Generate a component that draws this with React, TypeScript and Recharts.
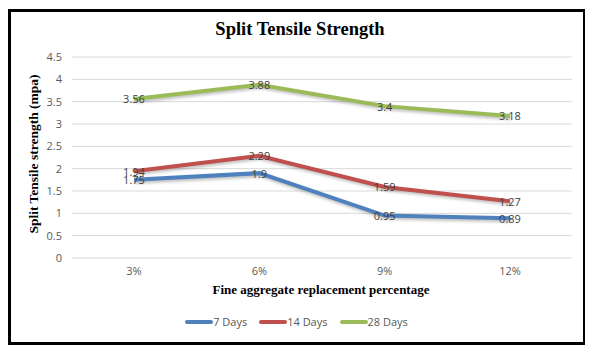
import { CartesianGrid, LabelList, Legend, Line, LineChart, XAxis, YAxis } from "recharts";

const categories = ["3%", "6%", "9%", "12%"];
const days7 = [1.75, 1.9, 0.95, 0.89];
const days14 = [1.94, 2.29, 1.59, 1.27];
const days28 = [3.56, 3.88, 3.4, 3.18];
const yTicks = [0, 0.5, 1, 1.5, 2, 2.5, 3, 3.5, 4, 4.5];

const series = [
  { key: "d7", name: "7 Days", color: "#4F81BD" },
  { key: "d14", name: "14 Days", color: "#C0504D" },
  { key: "d28", name: "28 Days", color: "#9BBB59" },
];

const data = categories.map((c, i) => ({
  cat: c,
  d7: days7[i],
  d14: days14[i],
  d28: days28[i],
}));

const tickStyle = { fill: "#595959", fontSize: 11, fontFamily: "'Open Sans', sans-serif" };
const serif = "'Liberation Serif', 'Times New Roman', serif";

// data labels sit centered on the point, like Excel's default
const renderLabel = (props: any) => {
  const { x, y, value } = props;
  return (
    <text
      x={x}
      y={y}
      textAnchor="middle"
      dominantBaseline="central"
      fill="#404040"
      fontSize={11}
      fontFamily="'Open Sans', sans-serif"
    >
      {value}
    </text>
  );
};

const renderLegend = () => (
  <div style={{ display: "flex", justifyContent: "center", gap: 12, fontFamily: "'Open Sans', sans-serif", fontSize: 11, color: "#595959" }}>
    {series.map((s) => (
      <div key={s.key} style={{ display: "flex", alignItems: "center" }}>
        <span style={{ display: "inline-block", width: 28, height: 4, borderRadius: 2, background: s.color }} />
        <span>{s.name}</span>
      </div>
    ))}
  </div>
);

export default function App() {
  return (
    <div style={{ position: "relative", width: 593, height: 352, margin: "-8px 0 0 -8px", background: "#fff" }}>
      <style>{`.recharts-line-curve { filter: drop-shadow(1px 2px 1.5px rgba(0,0,0,0.25)); }`}</style>
      <div
        style={{
          position: "absolute",
          left: 8,
          top: 9,
          width: 572,
          height: 330,
          border: "3px solid #000",
        }}
      />
      <div
        style={{
          position: "absolute",
          left: 0,
          width: 600,
          top: 19,
          textAlign: "center",
          fontFamily: serif,
          fontWeight: "bold",
          fontSize: 18.5,
          color: "#000",
        }}
      >
        Split Tensile Strength
      </div>
      <div
        style={{
          position: "absolute",
          left: 34,
          top: 154,
          transform: "translate(-50%, -50%) rotate(-90deg)",
          whiteSpace: "nowrap",
          fontFamily: serif,
          fontWeight: "bold",
          fontSize: 13.5,
        }}
      >
        Split Tensile strength (mpa)
      </div>
      <div
        style={{
          position: "absolute",
          left: 0,
          width: 642,
          top: 282,
          textAlign: "center",
          fontFamily: serif,
          fontWeight: "bold",
          fontSize: 13,
        }}
      >
        Fine aggregate replacement percentage
      </div>
      <div style={{ position: "absolute", left: 0, top: 0 }}>
        <LineChart width={593} height={352} data={data} margin={{ top: 57, right: 21, bottom: 0, left: 42 }}>
          <CartesianGrid vertical={false} stroke="#d9d9d9" />
          <XAxis
            dataKey="cat"
            axisLine={false}
            tickLine={false}
            tickSize={0}
            tickMargin={9}
            height={79}
            padding={{ left: 62, right: 62 }}
            tick={tickStyle}
            interval={0}
          />
          <YAxis
            domain={[0, 4.5]}
            ticks={yTicks}
            axisLine={false}
            tickLine={false}
            tickSize={0}
            tickMargin={10}
            width={30}
            tick={tickStyle}
            interval={0}
          />
          <Legend
            verticalAlign="bottom"
            wrapperStyle={{ top: 314, left: 0, width: 593 }}
            content={renderLegend}
          />
          {series.map((s) => (
            <Line
              key={s.key}
              type="linear"
              dataKey={s.key}
              name={s.name}
              stroke={s.color}
              strokeWidth={4}
              dot={false}
              activeDot={false}
              isAnimationActive={false}
            >
              <LabelList dataKey={s.key} content={renderLabel} />
            </Line>
          ))}
        </LineChart>
      </div>
    </div>
  );
}
